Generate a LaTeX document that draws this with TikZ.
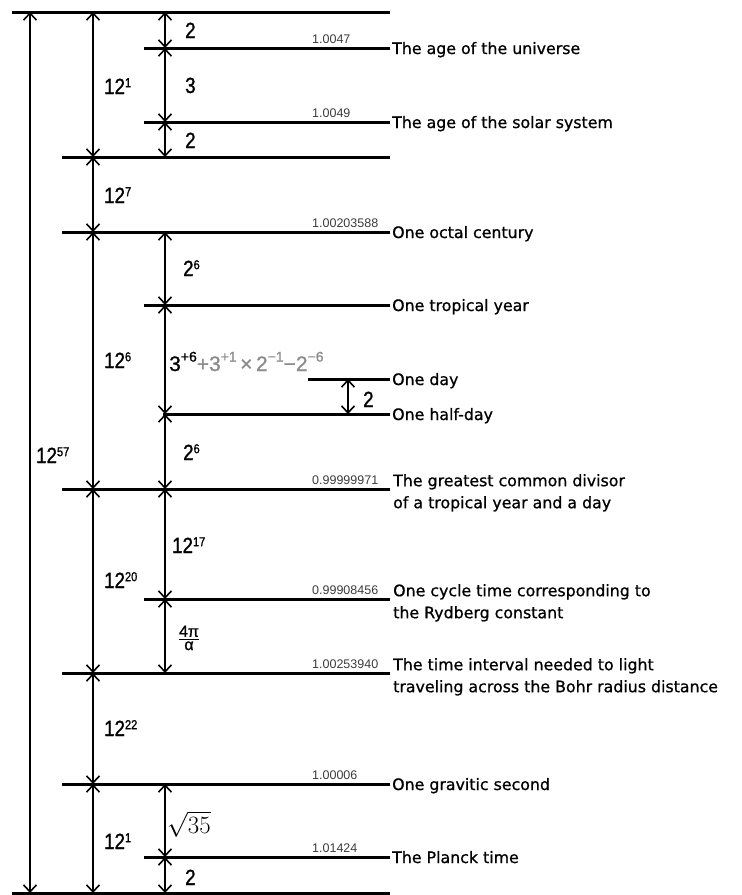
\documentclass[tikz,border=0pt]{standalone}
\usepackage{amsmath}
\usepackage{fontspec}
\usepackage{tikz}
\usetikzlibrary{calc, arrows.meta}
\newfontfamily\lblfont[FakeBold=0.8]{DejaVu Sans}
\newfontfamily\numfont[FakeStretch=0.85, FakeBold=1.2]{Liberation Sans}
\newfontfamily\termfont[FakeBold=1]{Liberation Sans}
\newfontfamily\ratiofont{Liberation Sans}
\definecolor{ratioGray}{RGB}{60, 60, 60}
\definecolor{termGray}{RGB}{140, 140, 140}
\newcommand{\pw}[2]{#1\raisebox{0.31em}{\fontsize{13}{13}\selectfont #2}}
\newcommand{\tm}[2]{#1\raisebox{0.45em}{\fontsize{14}{14}\selectfont #2}}

\begin{document}
\begin{tikzpicture}[x=1pt, y=-1pt, >={Straight Barb[length=7pt,width=13pt]},
  lvl/.style={line width=3pt},
  dim/.style={<->, line width=1.6pt},
  lbl/.style={font=\lblfont\fontsize{15.8}{22}\selectfont, inner sep=0pt, anchor=base west, yshift=-6pt},
  lbltwo/.style={font=\lblfont\fontsize{15.8}{22}\selectfont, inner sep=0pt, anchor=north west, align=left, xshift=1pt, yshift=15pt},
  ratio/.style={font=\ratiofont\fontsize{12.5}{12.5}\selectfont, text=ratioGray, inner sep=0pt, anchor=base west, yshift=4.5pt},
  pow/.style={font=\numfont\fontsize{22}{22}\selectfont, inner sep=0pt, anchor=base west}]
  \useasboundingbox (0,0) rectangle (742,895);

  \coordinate (colA) at (30,0);
  \coordinate (colB) at (93,0);
  \coordinate (colC) at (165,0);
  \coordinate (colD) at (348,0);
  \coordinate (colR) at (312,0);
  \coordinate (rt) at (390,0);
  \coordinate (colT) at (392,0);

  % left ends of the levels
  \coordinate (top) at (12,12);
  \coordinate (univ) at (144,48);
  \coordinate (solar) at (144,122);
  \coordinate (yrA) at (62,157);
  \coordinate (octal) at (62,232);
  \coordinate (trop) at (144,305);
  \coordinate (day) at (308,379);
  \coordinate (half) at (163,414);
  \coordinate (gcd) at (62,489);
  \coordinate (ryd) at (144,599);
  \coordinate (bohr) at (62,673);
  \coordinate (grav) at (62,784);
  \coordinate (planck) at (144,857);
  \coordinate (bot) at (12,893);

  \foreach \l in {top, univ, solar, yrA, octal, trop, day, half, gcd, ryd, bohr, grav, planck, bot}
    \draw[lvl] (\l) -- (\l -| rt);

  % names of the levels
  \node[lbl] (tUniv) at (colT |- univ) {The age of the universe};
  \node[lbl] (tSolar) at (colT |- solar) {The age of the solar system};
  \node[lbl] (tOctal) at (colT |- octal) {One octal century};
  \node[lbl] (tTrop) at (colT |- trop) {One tropical year};
  \node[lbl] (tDay) at (colT |- day) {One day};
  \node[lbl] (tHalf) at (colT |- half) {One half-day};
  \node[lbltwo] (tGcd) at (colT |- gcd) {The greatest common divisor\\of a tropical year and a day};
  \node[lbltwo] (tRyd) at (colT |- ryd) {One cycle time corresponding to\\the Rydberg constant};
  \node[lbltwo] (tBohr) at (colT |- bohr) {The time interval needed to light\\traveling across the Bohr radius distance};
  \node[lbl] (tGrav) at (colT |- grav) {One gravitic second};
  \node[lbl] (tPlanck) at (colT |- planck) {The Planck time};

  \node[ratio] (rUniv) at (colR |- univ) {1.0047};
  \node[ratio] (rSolar) at (colR |- solar) {1.0049};
  \node[ratio] (rOctal) at (colR |- octal) {1.00203588};
  \node[ratio] (rGcd) at (colR |- gcd) {0.99999971};
  \node[ratio] (rRyd) at (colR |- ryd) {0.99908456};
  \node[ratio] (rBohr) at (colR |- bohr) {1.00253940};
  \node[ratio] (rGrav) at (colR |- grav) {1.00006};
  \node[ratio] (rPlanck) at (colR |- planck) {1.01424};

  % spans
  \draw[dim] (colA |- top) -- (colA |- bot);
  \foreach \a/\b in {top/yrA, yrA/octal, octal/gcd, gcd/bohr, bohr/grav, grav/bot}
    \draw[dim] (colB |- \a) -- (colB |- \b);
  \foreach \a/\b in {top/univ, univ/solar, solar/yrA, octal/trop, trop/half, half/gcd, gcd/ryd, ryd/bohr, grav/planck, planck/bot}
    \draw[dim] (colC |- \a) -- (colC |- \b);
  \draw[dim] (colD |- day) -- (colD |- half);

  \node[pow] (sAll) at (36,463) {\pw{12}{57}};

  \node[pow] (sUnivA) at (104,94) {\pw{12}{1}};
  \node[pow] (sOctalA) at (104,203) {\pw{12}{7}};
  \node[pow] (sGcdA) at (104,368) {\pw{12}{6}};
  \node[pow] (sBohrA) at (104,588) {\pw{12}{20}};
  \node[pow] (sGravA) at (104,736) {\pw{12}{22}};
  \node[pow] (sBotA) at (104,849) {\pw{12}{1}};

  \node[pow] (sUniv) at (185,38) {2};
  \node[pow] (sSolar) at (185,93) {3};
  \node[pow] (sYrA) at (185,148) {2};
  \node[pow] (sTrop) at (183,276) {\pw{2}{6}};
  \node[pow, font=\termfont\fontsize{21}{21}\selectfont] (sHalf) at (169,371)
    {\tm{3}{+6}\textcolor{termGray}{+\tm{3}{+1}\,×\,\tm{2}{−1}−\tm{2}{−6}}};
  \node[pow] (sDay) at (363,407) {2};
  \node[pow] (sGcd) at (183,460) {\pw{2}{6}};
  \node[pow] (sRyd) at (172,553) {\pw{12}{17}};
  \node[inner sep=0pt, font=\termfont\fontsize{16}{16}\selectfont] (sBohr) at (189,638)
    {$\genfrac{}{}{1.4pt}{}{\hbox{4π}}{\hbox{α}}$};
  \node[inner sep=0pt, font=\fontsize{24}{24}\selectfont] (sPlanck) at (189,824) {$\sqrt{35}$};
  \node[pow] (sBot) at (185,885) {2};
\end{tikzpicture}
\end{document}
